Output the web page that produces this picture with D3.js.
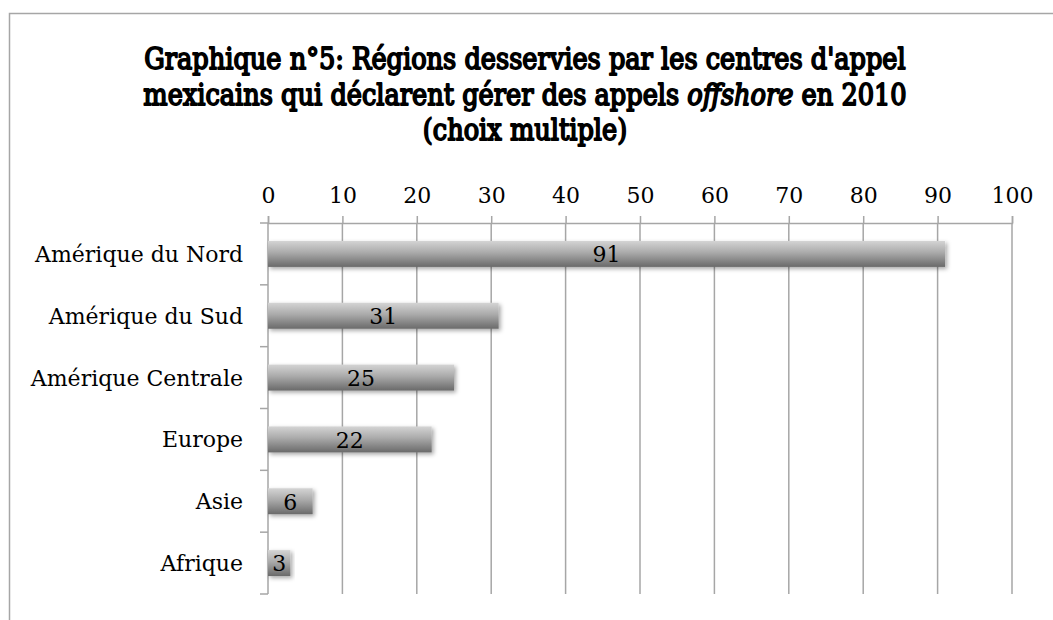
<!DOCTYPE html>
<html>
<head>
<meta charset="utf-8">
<script src="https://cdn.jsdelivr.net/npm/d3@7"></script>
<style>
  body { margin: 0; background: #fff; }
  svg { display: block; }
</style>
</head>
<body>
<svg id="chart"></svg>
<script>
// data
const regions = ["Amérique du Nord", "Amérique du Sud", "Amérique Centrale", "Europe", "Asie", "Afrique"];
const values = [91, 31, 25, 22, 6, 3];
const xTicks = [0, 10, 20, 30, 40, 50, 60, 70, 80, 90, 100];
const titleLines = [
  "Graphique n°5: Régions desservies par les centres d'appel",
  "mexicains qui déclarent gérer des appels |offshore| en 2010",
  "(choix multiple)"
];

const W = 1053, H = 620;
const margin = { top: 223, right: 41, bottom: 26, left: 268 };
const width = W - margin.left - margin.right;
const height = H - margin.top - margin.bottom;
const labelFont = "'DejaVu Serif', serif";

const svg = d3.select("#chart").attr("width", W).attr("height", H);

const defs = svg.append("defs");
const grad = defs.append("linearGradient")
  .attr("id", "barGrad").attr("x1", 0).attr("y1", 0).attr("x2", 0).attr("y2", 1);
grad.append("stop").attr("offset", "0%").attr("stop-color", "#d4d4d4");
grad.append("stop").attr("offset", "45%").attr("stop-color", "#aaaaaa");
grad.append("stop").attr("offset", "100%").attr("stop-color", "#6a6a6a");
const shadow = defs.append("filter").attr("id", "shadow")
  .attr("x", "-10%").attr("y", "-30%").attr("width", "130%").attr("height", "180%");
shadow.append("feDropShadow")
  .attr("dx", 2).attr("dy", 2).attr("stdDeviation", 2)
  .attr("flood-color", "#000").attr("flood-opacity", 0.35);

// outer frame
svg.append("path")
  .attr("d", `M9.5,${H + 5} V13.5 H${W + 5}`)
  .attr("fill", "none").attr("stroke", "#a6a6a6").attr("stroke-width", 1.5);

// title: serif regular thickened with a stroke (no bold serif face here),
// then condensed horizontally like the narrow Times face of the original
const titleG = svg.append("g");
const titleTexts = titleLines.map(line => {
  const t = titleG.append("text")
    .attr("text-anchor", "middle")
    .style("font-family", labelFont)
    .style("font-size", "29px")
    .attr("fill", "#000").attr("stroke", "#000").attr("stroke-width", 1.8)
    .attr("stroke-linejoin", "round");
  line.split("|").forEach((part, j) => {
    t.append("tspan").text(part).style("font-style", j % 2 ? "italic" : "normal");
  });
  return t;
});
const squeeze = 762 / titleTexts[0].node().getComputedTextLength();
titleTexts.forEach((t, i) => {
  t.attr("transform", `translate(525,${69 + i * 35.5}) scale(${squeeze},1)`);
});

const g = svg.append("g").attr("transform", `translate(${margin.left},${margin.top})`);

const x = d3.scaleLinear().domain([0, 100]).range([0, width]);
const y = d3.scaleBand().domain(regions).range([0, height]).paddingInner(0.58).paddingOuter(0.29);
const yTicks = d3.scaleBand().domain(regions).range([0, height]);

// gridlines
g.append("g").selectAll("line").data(xTicks.slice(1)).join("line")
  .attr("x1", d => x(d)).attr("x2", d => x(d))
  .attr("y1", 0).attr("y2", height)
  .attr("stroke", "#a6a6a6").attr("stroke-width", 1.5);

// top axis
const xAxis = g.append("g")
  .call(d3.axisTop(x).tickValues(xTicks).tickSize(7).tickPadding(13));
xAxis.select(".domain").attr("stroke", "#a6a6a6").attr("stroke-width", 1.5);
xAxis.selectAll(".tick line").attr("stroke", "#a6a6a6").attr("stroke-width", 1.5);
xAxis.selectAll("text").attr("fill", "#000")
  .style("font-family", labelFont).style("font-size", "22px");

// left axis line with separators
g.append("line").attr("x1", 0).attr("x2", 0).attr("y1", 0).attr("y2", height)
  .attr("stroke", "#a6a6a6").attr("stroke-width", 1.5);
g.append("g").selectAll("line").data(regions).join("line")
  .attr("x1", -8).attr("x2", 0)
  .attr("y1", d => yTicks(d) + yTicks.bandwidth())
  .attr("y2", d => yTicks(d) + yTicks.bandwidth())
  .attr("stroke", "#a6a6a6").attr("stroke-width", 1.5);
g.append("line").attr("x1", -8).attr("x2", 0).attr("y1", 0).attr("y2", 0)
  .attr("stroke", "#a6a6a6").attr("stroke-width", 1.5);

// category labels
g.append("g").selectAll("text").data(regions).join("text")
  .attr("x", -25).attr("y", d => yTicks(d) + yTicks.bandwidth() / 2)
  .attr("dy", "0.36em").attr("text-anchor", "end")
  .style("font-family", labelFont).style("font-size", "22px")
  .text(d => d);

// bars
const data = regions.map((r, i) => ({ region: r, value: values[i] }));
g.append("g").selectAll("rect").data(data).join("rect")
  .attr("x", 0).attr("y", d => y(d.region))
  .attr("width", d => x(d.value)).attr("height", y.bandwidth())
  .attr("fill", "url(#barGrad)").attr("filter", "url(#shadow)");

// value labels
g.append("g").selectAll("text").data(data).join("text")
  .attr("x", d => x(d.value) / 2).attr("y", d => y(d.region) + y.bandwidth() / 2)
  .attr("dy", "0.38em").attr("text-anchor", "middle")
  .style("font-family", labelFont).style("font-size", "22px")
  .text(d => d.value);
</script>
</body>
</html>
